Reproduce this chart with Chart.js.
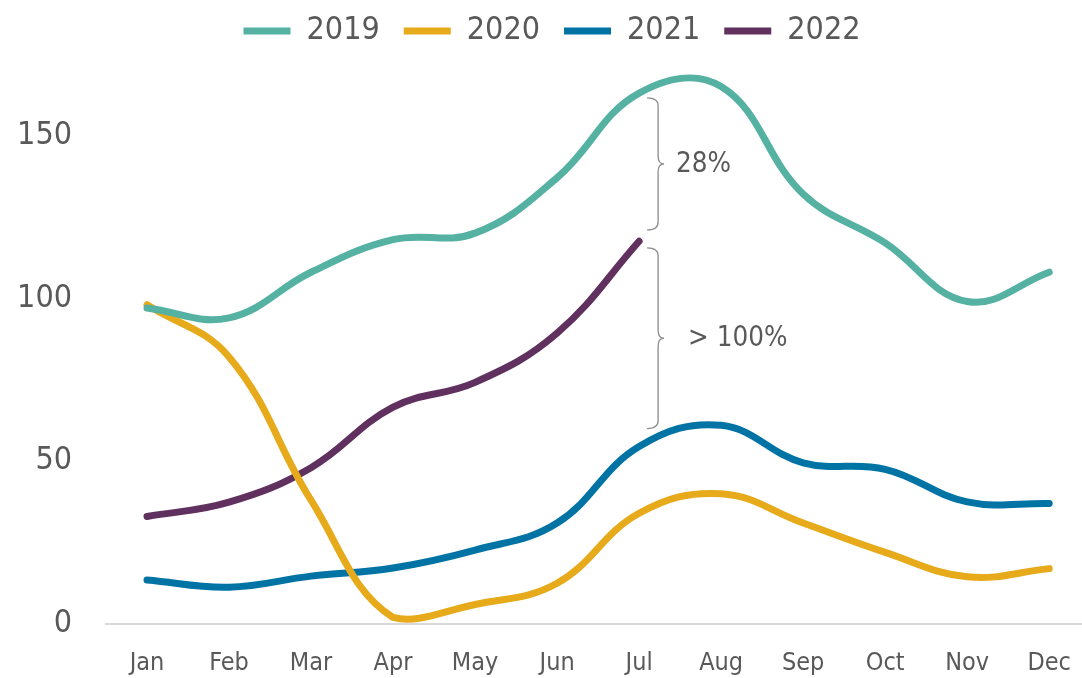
<!DOCTYPE html>
<html>
<head>
<meta charset="utf-8">
<script src="https://cdn.jsdelivr.net/npm/chart.js@4/dist/chart.umd.min.js"></script>
<style>
  html, body { margin: 0; padding: 0; background: #fff; }
  #wrap { width: 1082px; height: 678px; }
</style>
</head>
<body>
<div id="wrap"><canvas id="lineChart"></canvas></div>
<script>
const months = ['Jan', 'Feb', 'Mar', 'Apr', 'May', 'Jun', 'Jul', 'Aug', 'Sep', 'Oct', 'Nov', 'Dec'];
const years = ['2019', '2020', '2021', '2022'];
const values2019 = [97, 94, 108, 118, 120, 137, 163, 165, 132, 117, 99, 108];
const values2020 = [98, 82, 38, 2, 6, 12.5, 34, 40, 31, 22, 14.5, 17];
const values2021 = [13.5, 11.3, 14.7, 17.2, 22.7, 31, 54.5, 61, 49.5, 47.5, 37.5, 37];
const values2022 = [33, 37.4, 48, 66.6, 74.2, 89.3, 117.5];
const yTicks = [0, 50, 100, 150];
const colors = ['#55B2A2', '#E6AA1A', '#0073A5', '#60305F'];

// braces next to Jul: [from, to] in data units, with their labels
const braceRanges = [[161.5, 121], [115.5, 60]];
const braceLabels = ['28%', '> 100%'];
const braceMonth = 6;

const fontFamily = '"DejaVu Sans Condensed", "Liberation Sans Narrow", "Roboto", sans-serif';
const textColor = '#595959';

const braces = {
    id: 'braces',
    afterDatasetsDraw(chart) {
        const {ctx, scales: {x, y}} = chart;
        const bx = x.getPixelForValue(braceMonth) + 19;
        ctx.save();
        ctx.strokeStyle = '#8C8C8C';
        ctx.lineWidth = 1.3;
        ctx.fillStyle = textColor;
        ctx.font = '27.5px ' + fontFamily;
        ctx.textBaseline = 'middle';
        braceRanges.forEach(([a, b], i) => {
            const y0 = y.getPixelForValue(a);
            const y1 = y.getPixelForValue(b);
            const mid = (y0 + y1) / 2;
            const r = 8;
            ctx.beginPath();
            ctx.moveTo(bx - 11, y0);
            ctx.quadraticCurveTo(bx, y0, bx, y0 + r);
            ctx.lineTo(bx, mid - r);
            ctx.quadraticCurveTo(bx, mid, bx + 6, mid);
            ctx.quadraticCurveTo(bx, mid, bx, mid + r);
            ctx.lineTo(bx, y1 - r);
            ctx.quadraticCurveTo(bx, y1, bx - 11, y1);
            ctx.stroke();
            ctx.textAlign = 'left';
            ctx.fillText(braceLabels[i], bx + (i === 0 ? 18 : 30), mid + 1);
        });
        ctx.restore();
    }
};

// nudge the legend a little right of centre and down
const legendShift = {
    id: 'legendShift',
    afterLayout(chart) {
        chart.legend.left += 17;
        chart.legend.right += 17;
        chart.legend.top += 3;
        chart.legend.bottom += 3;
    }
};

const makeSet = (label, values, color) => ({
    label,
    data: values.map((v, i) => ({x: i, y: v})),
    borderColor: color,
    backgroundColor: color,
    borderWidth: 7,
    borderCapStyle: 'round',
    pointRadius: 0,
    tension: 0.4,
    fill: false
});

new Chart(document.getElementById('lineChart').getContext('2d'), {
    type: 'line',
    data: {
        datasets: [
            makeSet(years[0], values2019, colors[0]),
            makeSet(years[1], values2020, colors[1]),
            makeSet(years[2], values2021, colors[2]),
            makeSet(years[3], values2022, colors[3])
        ]
    },
    options: {
        responsive: true,
        maintainAspectRatio: false,
        animation: false,
        layout: {padding: 0},
        plugins: {
            tooltip: {enabled: false},
            legend: {
                position: 'top',
                labels: {
                    color: textColor,
                    font: {family: fontFamily, size: 32},
                    boxWidth: 47,
                    boxHeight: 0,
                    padding: 12,
                    generateLabels: (chart) => chart.data.datasets.map((ds, i) => ({
                        text: ds.label + ' \u200A',
                        fontColor: textColor,
                        strokeStyle: ds.borderColor,
                        fillStyle: ds.borderColor,
                        lineWidth: 7,
                        lineCap: 'round',
                        datasetIndex: i
                    }))
                }
            }
        },
        scales: {
            x: {
                type: 'linear',
                min: -0.5,
                max: 11.4,
                grid: {display: false, drawTicks: false},
                border: {display: true, color: '#D9D9D9', width: 2},
                afterBuildTicks: (axis) => {
                    axis.ticks = months.map((m, i) => ({value: i}));
                },
                ticks: {
                    color: textColor,
                    font: {family: fontFamily, size: 25},
                    padding: 24,
                    maxRotation: 0,
                    autoSkip: false,
                    callback: (value) => months[value]
                },
                afterFit: (axis) => {
                    axis.height = 54;
                    axis.paddingLeft = 0;
                    axis.paddingRight = 0;
                }
            },
            y: {
                min: 0,
                max: 175,
                grid: {display: false, drawTicks: false},
                border: {display: false},
                afterBuildTicks: (axis) => {
                    axis.ticks = yTicks.map(v => ({value: v}));
                },
                ticks: {color: textColor, font: {family: fontFamily, size: 32}, padding: 34},
                afterFit: (axis) => {
                    axis.width = 106;
                }
            }
        }
    },
    plugins: [braces, legendShift]
});
</script>
</body>
</html>
